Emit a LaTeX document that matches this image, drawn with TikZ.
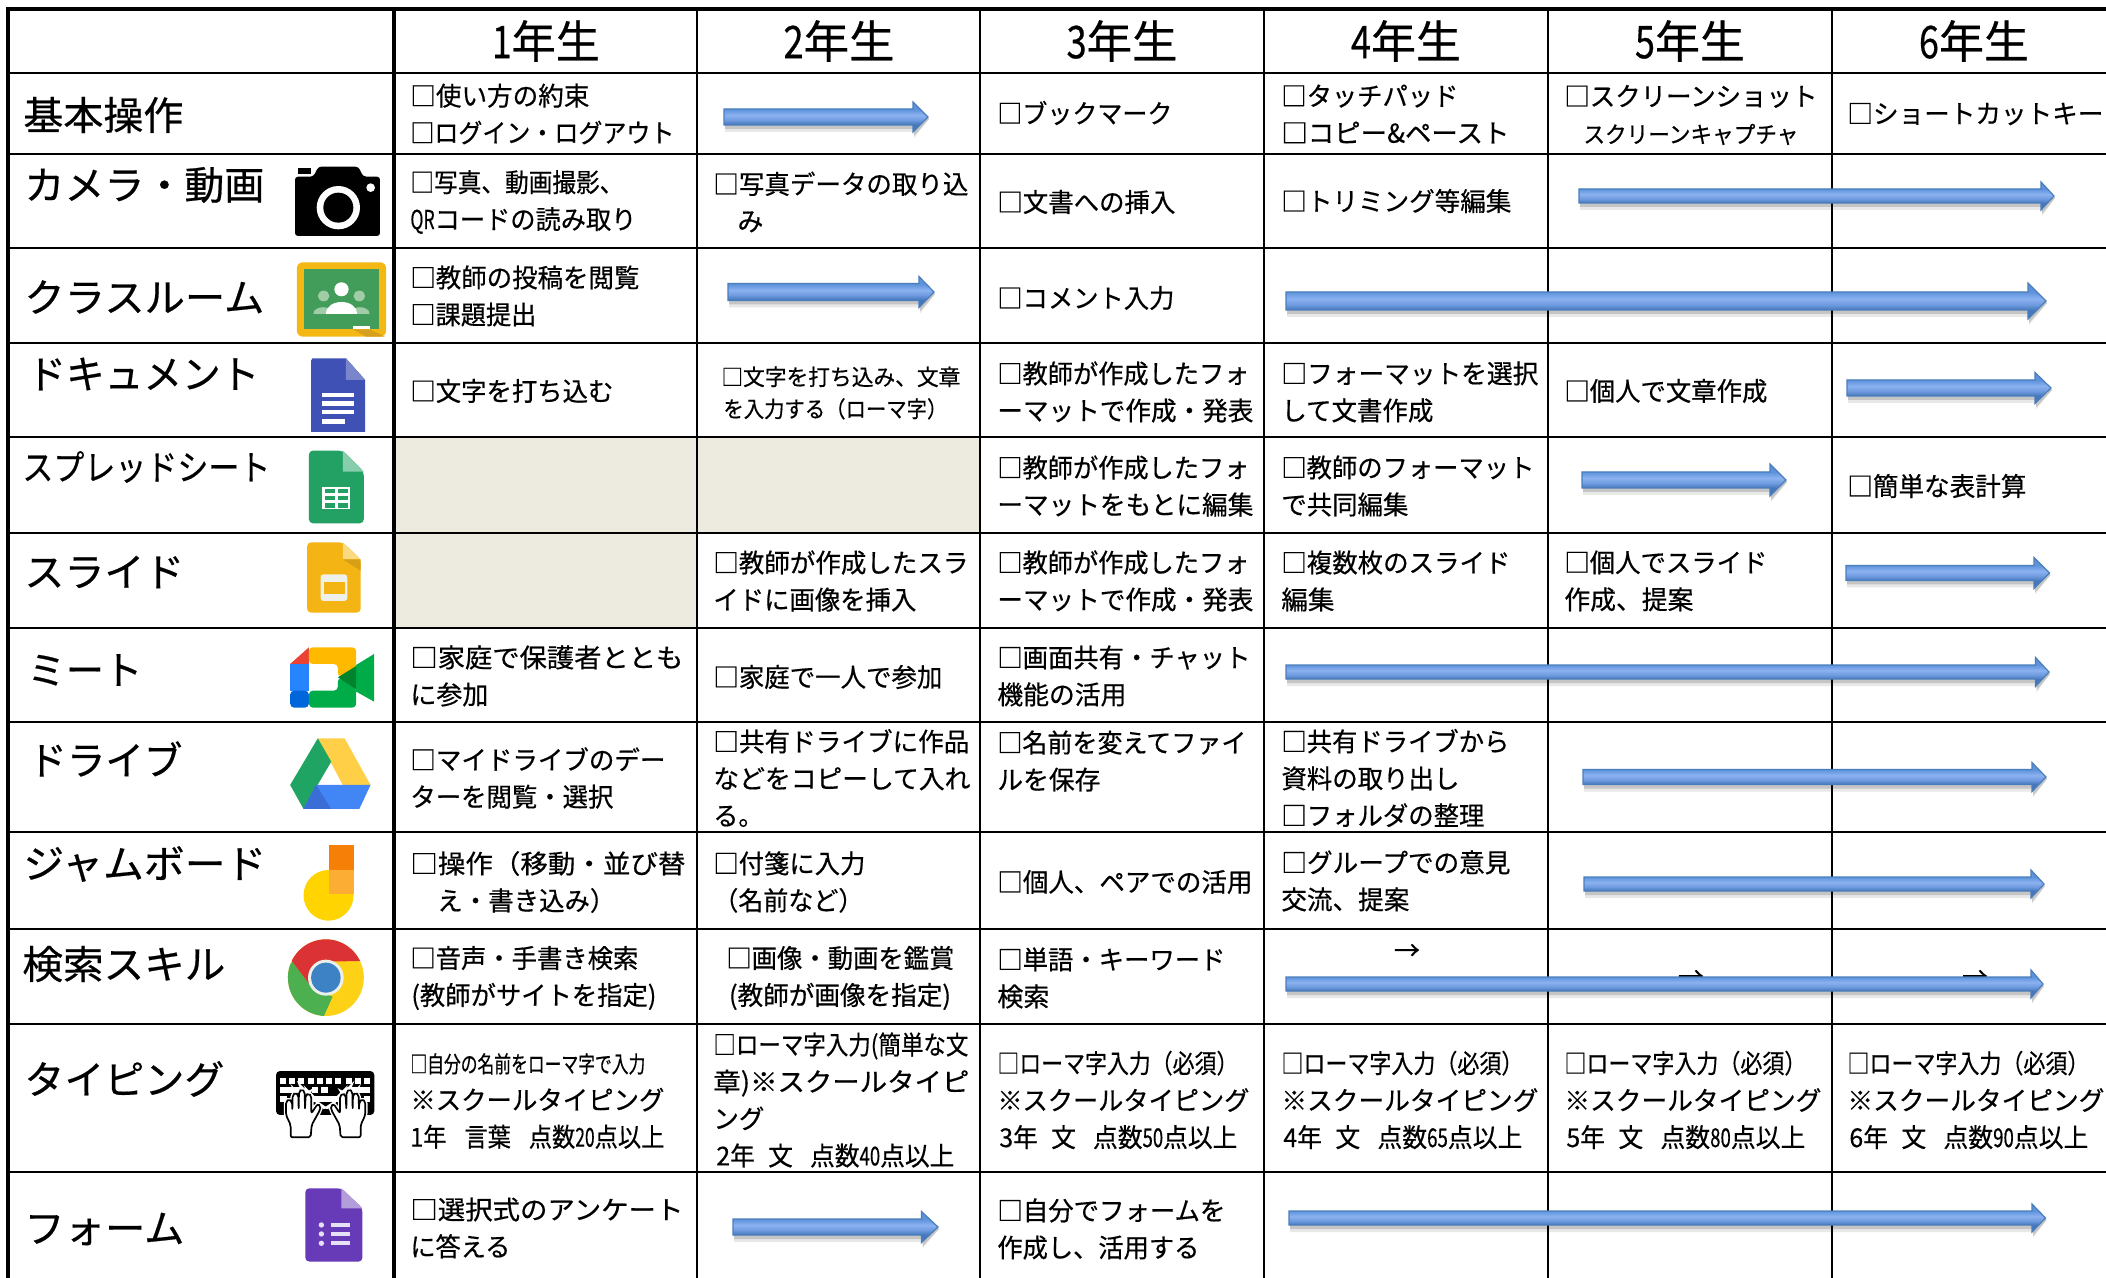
\documentclass[tikz,border=0pt]{standalone}
\usepackage{fontspec}
\usepackage{graphicx}
\setmainfont[RawFeature={embolden=0.5}]{Noto Sans CJK JP}
\newcommand\sx[2]{\scalebox{#1}[1]{#2}}
\newsavebox\fitbox
% set #2 and squeeze or stretch it sideways to a width of #1 picture pixels
\newcommand\fw[2]{\sbox\fitbox{#2}\pgfmathsetmacro\fitratio{#1*0.5/\the\wd\fitbox}\scalebox{\fitratio}[1]{\usebox\fitbox}}
\tikzset{
  gridh/.style={line width=1.15pt,black},
  gridv/.style={line width=1pt,black},
  gridthick/.style={line width=1.8pt,black},
  cell/.style={anchor=west,inner sep=0pt,align=left,yshift=-0.5pt,font=\fontsize{13}{18.5}\selectfont},
  smallcell/.style={cell,font=\fontsize{11.2}{16}\selectfont},
  rowlabel/.style={anchor=west,inner sep=0pt,yshift=-1pt,font=\fontsize{19.6}{22}\selectfont},
  header/.style={anchor=center,inner sep=0pt,yshift=-0.5pt,font=\fontsize{22.5}{26}\selectfont},
  stray/.style={anchor=center,inner sep=0pt,yshift=-0.5pt,font=\fontsize{13}{14}\selectfont},
  zoomA/.style={xscale=0.4464,yscale=0.3333},
}
\definecolor{tan}{HTML}{EDEBE0}
\definecolor{arrowedge}{HTML}{4A7EBB}
\definecolor{arrowdark}{HTML}{4677BC}
\definecolor{arrowlow}{HTML}{6F9BE0}
\definecolor{arrowlight}{HTML}{8BB2F0}
\definecolor{arrowtop}{HTML}{5E93DC}
\pgfdeclareverticalshading{blockshade}{100bp}{color(0bp)=(arrowdark);color(37.5bp)=(arrowdark);color(45bp)=(arrowlow);color(53bp)=(arrowlight);color(62.5bp)=(arrowtop);color(100bp)=(arrowtop)}
% block arrow: x1, x2, head start, centre y, half body, half head
\newcommand\blockarrow[6]{%
  \fill[black,opacity=.09] (#1+1,#4-#5+2) -- (#3+1,#4-#5+2) -- (#3+1,#4-#6+2) -- (#2+1,#4+2) -- (#3+1,#4+#6+6) -- (#3+1,#4+#5+7) -- (#1+1,#4+#5+7) -- cycle;
  \fill[black,opacity=.15] (#1+1,#4-#5+2) -- (#3+1,#4-#5+2) -- (#3+1,#4-#6+2) -- (#2+1,#4+2) -- (#3+1,#4+#6+4) -- (#3+1,#4+#5+4) -- (#1+1,#4+#5+4) -- cycle;
  \shade[shading=blockshade,draw=arrowedge,line width=.6pt]
    (#1,#4-#5) -- (#3,#4-#5) -- (#3,#4-#6) -- (#2,#4) -- (#3,#4+#6) -- (#3,#4+#5) -- (#1,#4+#5) -- cycle;
}
\begin{document}
\begin{tikzpicture}[x=0.5pt,y=-0.5pt]
\useasboundingbox (0,0) rectangle (2106,1278);
\fill[white] (0,0) rectangle (2106,1278);
% shaded cells
\fill[tan] (394,437) rectangle (697,533);
\fill[tan] (697,437) rectangle (980,533);
\fill[tan] (394,533) rectangle (697,628);
% horizontal rules
\foreach \y in {73,154,248,343,437,533,628,722,832,929,1024,1172}
  \draw[gridh] (8,\y) -- (2106,\y);
\draw[gridthick] (6,9) -- (2106,9);
% vertical rules
\foreach \x in {697,980,1264,1548,1832}
  \draw[gridv] (\x,9) -- (\x,1278);
\draw[gridthick] (8,9) -- (8,1278);
\draw[gridthick] (394,9) -- (394,1278);
% headers
\node[header] (h1) at (546,40) {\fw{108}{\sx{0.8}{1}年生}};
\node[header] (h2) at (839,40) {\fw{111}{\sx{0.8}{2}年生}};
\node[header] (h3) at (1122,40) {\fw{111}{\sx{0.8}{3}年生}};
\node[header] (h4) at (1406,40) {\fw{110}{\sx{0.8}{4}年生}};
\node[header] (h5) at (1690,40) {\fw{110}{\sx{0.8}{5}年生}};
\node[header] (h6) at (1974,40) {\fw{110}{\sx{0.8}{6}年生}};
% row labels
\node[rowlabel] (l1) at (23,113) {\fw{160}{基本操作}};
\node[rowlabel] (l2) at (24,183) {\fw{240}{カメラ・動画}};
\node[rowlabel] (l3) at (24,295) {\fw{240}{クラスルーム}};
\node[rowlabel] (l4) at (27,372) {\fw{232}{ドキュメント}};
\node[rowlabel,font=\fontsize{17.5}{20}\selectfont] (l5) at (22,465) {\fw{248}{スプレッドシート}};
\node[rowlabel] (l6) at (24,570) {\fw{160}{スライド}};
\node[rowlabel] (l7) at (27,668) {\fw{115}{ミート}};
\node[rowlabel] (l8) at (28,757) {\fw{154}{ドライブ}};
\node[rowlabel] (l9) at (23,862) {\fw{243}{ジャムボード}};
\node[rowlabel] (l10) at (22,962) {\fw{203}{検索スキル}};
\node[rowlabel] (l11) at (24,1077) {\fw{200}{タイピング}};
\node[rowlabel] (l12) at (24,1227) {\fw{160}{フォーム}};
% row 1
\node[cell] (r1c1) at (410,113) {\fw{179}{□使い方の約束}\\\fw{264}{□ログイン・ログアウト}};
\node[cell] (r1c3) at (997,112) {\fw{175}{□ブックマーク}};
\node[cell] (r1c4) at (1281,113) {\fw{177}{□タッチパッド}\\\fw{228}{□コピー\&ペースト}};
\node[cell] (r1c5) at (1564,114) {\fw{253}{□スクリーンショット}\\\hspace*{9.5pt}{\fontsize{11.5}{18.5}\selectfont\fw{215}{スクリーンキャプチャ}}};
\node[cell] (r1c6) at (1847,113) {\fw{256}{□ショートカットキー}};
% row 2
\node[cell] (r2c1) at (410,201) {\fw{213}{□写真、動画撮影、}\\\fw{226}{\sx{.7}{QR}コードの読み取り}};
\node[cell] (r2c2) at (713,201) {\fw{255}{□写真データの取り込}\\\hspace*{12pt}み};
\node[cell] (r2c3) at (997,201) {\fw{178}{□文書への挿入}};
\node[cell] (r2c4) at (1281,200) {\fw{230}{□トリミング等編集}};
% row 3
\node[cell] (r3c1) at (410,295) {\fw{229}{□教師の投稿を閲覧}\\\fw{126}{□課題提出}};
\node[cell] (r3c3) at (997,297) {\fw{177}{□コメント入力}};
% row 4
\node[cell] (r4c1) at (410,390) {\fw{203}{□文字を打ち込む}};
\node[smallcell] (r4c2) at (721,392) {\fw{239}{□文字を打ち込み、文章}\\\hspace*{1pt}\fw{224}{を入力する（ローマ字）}};
\node[cell] (r4c3) at (997,391) {\fw{252}{□教師が作成したフォ}\\\fw{256}{ーマットで作成・発表}};
\node[cell] (r4c4) at (1281,391) {\fw{257}{□フォーマットを選択}\\\fw{152}{して文書作成}};
\node[cell] (r4c5) at (1564,390) {\fw{203}{□個人で文章作成}};
% row 5
\node[cell] (r5c3) at (997,485) {\fw{252}{□教師が作成したフォ}\\\fw{256}{ーマットをもとに編集}};
\node[cell] (r5c4) at (1281,485) {\fw{253}{□教師のフォーマット}\\\fw{127}{で共同編集}};
\node[cell] (r5c6) at (1847,485) {\fw{179}{□簡単な表計算}};
% row 6
\node[cell] (r6c2) at (713,580) {\fw{255}{□教師が作成したスラ}\\\fw{203}{イドに画像を挿入}};
\node[cell] (r6c3) at (997,580) {\fw{252}{□教師が作成したフォ}\\\fw{256}{ーマットで作成・発表}};
\node[cell] (r6c4) at (1281,580) {\fw{229}{□複数枚のスライド}\\\fw{53}{編集}};
\node[cell] (r6c5) at (1564,580) {\fw{203}{□個人でスライド}\\\fw{129}{作成、提案}};
% row 7
\node[cell] (r7c1) at (410,675) {\fw{273}{□家庭で保護者ととも}\\\fw{78}{に参加}};
\node[cell] (r7c2) at (713,676) {\fw{229}{□家庭で一人で参加}};
\node[cell] (r7c3) at (997,675) {\fw{253}{□画面共有・チャット}\\\fw{129}{機能の活用}};
% row 8
\node[cell] (r8c1) at (410,777) {\fw{255}{□マイドライブのデー}\\\fw{203}{ターを閲覧・選択}};
\node[cell] (r8c2) at (713,777) {\fw{256}{□共有ドライブに作品}\\\fw{257}{などをコピーして入れ}\\\fw{50}{る。}};
\node[cell] (r8c3) at (997,760) {\fw{249}{□名前を変えてファイ}\\\fw{103}{ルを保存}};
\node[cell] (r8c4) at (1281,777) {\fw{228}{□共有ドライブから}\\\fw{178}{資料の取り出し}\\\fw{203}{□フォルダの整理}};
% row 9
\node[cell] (r9c1) at (410,881) {\fw{275}{□操作（移動・並び替}\\\hspace*{13.5pt}\fw{178}{え・書き込み）}};
\node[cell] (r9c2) at (713,881) {\fw{152}{□付箋に入力}\\\hspace*{0pt}\fw{150}{（名前など）}};
\node[cell] (r9c3) at (997,881) {\fw{255}{□個人、ペアでの活用}};
\node[cell] (r9c4) at (1281,880) {\fw{229}{□グループでの意見}\\\fw{128}{交流、提案}};
% row 10
\node[cell] (r10c1) at (410,977) {\fw{228}{□音声・手書き検索}\\\hspace*{.5pt}\fw{245}{(教師がサイトを指定)}};
\node[cell] (r10c2) at (726,977) {\fw{228}{□画像・動画を鑑賞}\\\hspace*{1.3pt}\fw{222}{(教師が画像を指定)}};
\node[cell] (r10c3) at (997,977) {\fw{228}{□単語・キーワード}\\\fw{52}{検索}};
% row 11
\node[cell] (r11c1) at (410,1100) {{\fontsize{11.5}{18.5}\selectfont\fw{235}{□自分の名前をローマ字で入力}}\\\fw{254}{※スクールタイピング}\\\fw{254}{1年\hspace{10pt}言葉\hspace{10pt}点数\sx{.75}{20}点以上}};
\node[cell] (r11c2) at (713,1099) {\fw{255}{□ローマ字入力(簡単な文}\\\fw{256}{章)※スクールタイピ}\\\fw{51}{ング}\\\hspace*{1.5pt}\fw{238}{2年\hspace{7pt}文\hspace{9pt}点数\sx{.75}{40}点以上}};
\node[cell] (r11c3) at (997,1099) {\fw{241}{□ローマ字入力（必須）}\\\fw{252}{※スクールタイピング}\\\hspace*{1pt}\fw{238}{3年\hspace{7pt}文\hspace{9pt}点数\sx{.75}{50}点以上}};
\node[cell] (r11c4) at (1281,1099) {\fw{242}{□ローマ字入力（必須）}\\\fw{257}{※スクールタイピング}\\\hspace*{1pt}\fw{239}{4年\hspace{7pt}文\hspace{9pt}点数\sx{.75}{65}点以上}};
\node[cell] (r11c5) at (1564,1099) {\fw{242}{□ローマ字入力（必須）}\\\fw{257}{※スクールタイピング}\\\hspace*{1pt}\fw{239}{5年\hspace{7pt}文\hspace{9pt}点数\sx{.75}{80}点以上}};
\node[cell] (r11c6) at (1847,1099) {\fw{242}{□ローマ字入力（必須）}\\\fw{257}{※スクールタイピング}\\\hspace*{1pt}\fw{239}{6年\hspace{7pt}文\hspace{9pt}点数\sx{.75}{90}点以上}};
% row 12
\node[cell] (r12c1) at (410,1227) {\fw{273}{□選択式のアンケート}\\\fw{100}{に答える}};
\node[cell] (r12c3) at (997,1228) {\fw{228}{□自分でフォームを}\\\fw{202}{作成し、活用する}};
% stray arrows partly under the block arrow
\node[stray] (s1) at (1407,951) {→};
\node[stray] (s2) at (1691,977) {→};
\node[stray] (s3) at (1975,977) {→};
% block arrows
\blockarrow{724}{928}{913}{117}{8}{15}
\blockarrow{1579}{2054}{2041}{196}{7}{14}
\blockarrow{728}{934}{919}{292}{8.5}{15.5}
\blockarrow{1286}{2046}{2028}{301}{9}{18}
\blockarrow{1847}{2051}{2035}{388}{8}{15.5}
\blockarrow{1582}{1786}{1770}{480}{8}{16}
\blockarrow{1846}{2049.5}{2034}{573}{7.5}{15.5}
\blockarrow{1286}{2049}{2035.5}{672}{7}{14.5}
\blockarrow{1583}{2046}{2032}{777}{7.5}{14.5}
\blockarrow{1584}{2044}{2031}{884}{7}{14}
\blockarrow{1286}{2043}{2031}{984}{7}{14}
\blockarrow{733}{938}{921.5}{1227}{8}{15.5}
\blockarrow{1289}{2045.5}{2032}{1218}{7}{14}
% ---- camera
\begin{scope}[shift={(285,160)},scale=0.3333]
\fill[black,rounded corners=1.5pt] (30,50) -- (85,50) -- (100,20) -- (220,20) -- (235,50) -- (285,50) -- (285,228) -- (30,228) -- cycle;
\fill[black] (38,25) rectangle (78,42);
\fill[white] (160,143) circle (65);
\fill[black] (160,143) circle (45);
\fill[white] (257,83) circle (13);
\end{scope}
% ---- keyboard
\begin{scope}[shift={(270,1060)},scale=0.3333]
\fill[black,rounded corners=2pt] (18,33) rectangle (313,165);
\foreach \xx in {30,58,85,113,140,167,195,228,255,283}
  \fill[white] (\xx,55) rectangle (\xx+18,73);
\fill[white] (30,82) rectangle (100,100);
\fill[white] (125,82) rectangle (145,100);
\fill[white] (153,82) rectangle (173,100);
\fill[white] (230,82) rectangle (301,100);
\fill[white] (30,108) rectangle (50,125);
\fill[white] (125,108) rectangle (205,125);
\fill[white] (283,108) rectangle (301,125);
\foreach \mirror/\off in {1/0,-1/334}{
\begin{scope}[shift={(\off,0)},xscale=\mirror]
\draw[white,line width=2.2pt,rounded corners=1pt,fill=white] (62,232) -- (62,195) -- (48,165) -- (48,125) -- (57,117) -- (66,125) -- (67,150) -- (68,105) -- (77,97) -- (85,105) -- (86,148) -- (87,95) -- (96,87) -- (104,95) -- (105,148) -- (107,105) -- (116,100) -- (124,108) -- (124,160) -- (143,132) -- (152,138) -- (150,150) -- (125,195) -- (122,232) -- cycle;
\draw[black,line width=.85pt,rounded corners=1pt,fill=white,line join=round] (62,232) -- (62,195) -- (48,165) -- (48,125) -- (57,117) -- (66,125) -- (67,150) -- (68,105) -- (77,97) -- (85,105) -- (86,148) -- (87,95) -- (96,87) -- (104,95) -- (105,148) -- (107,105) -- (116,100) -- (124,108) -- (124,160) -- (143,132) -- (152,138) -- (150,150) -- (125,195) -- (122,232) -- cycle;
\end{scope}}
\end{scope}
% ---- icons, coordinates in zoomed-crop units
\begin{scope}[zoomA]
% classroom
\fill[rounded corners=3pt,fill={rgb,255:red,244;green,184;blue,20}] (665,787) rectangle (865,1010);
\fill[fill={rgb,255:red,66;green,156;blue,90}] (680,808) rectangle (848,988);
\fill[fill={rgb,255:red,214;green,160;blue,30}] (790,988) -- (828,988) -- (862,1010) -- (820,1010) -- cycle;
\fill[fill={rgb,255:red,160;green,205;blue,165}] (725,888) ellipse (13 and 16);
\fill[fill={rgb,255:red,160;green,205;blue,165}] (805,888) ellipse (13 and 16);
\fill[fill={rgb,255:red,160;green,205;blue,165}] (702,942) .. controls (702,915) and (745,915) .. (748,942) -- cycle;
\fill[fill={rgb,255:red,160;green,205;blue,165}] (828,942) .. controls (828,915) and (785,915) .. (782,942) -- cycle;
\fill[white] (765,868) ellipse (16 and 21);
\fill[white] (730,942) .. controls (730,895) and (800,895) .. (800,942) -- cycle;
\fill[white] (790,978) rectangle (828,988);
% docs
\fill[fill={rgb,255:red,63;green,81;blue,181}] (697,1082) -- (700,1075) -- (775,1075) -- (818,1140) -- (818,1296) -- (697,1296) -- cycle;
\fill[fill={rgb,255:red,121;green,134;blue,203}] (775,1075) -- (818,1140) -- (775,1140) -- cycle;
\foreach \yy in {1178,1204,1230}
  \fill[white] (722,\yy) rectangle (792,\yy+13);
\fill[white] (722,1258) rectangle (772,1271);
\end{scope}
\begin{scope}[shift={(0,430)},zoomA]
% sheets
\fill[rounded corners=2pt,fill={rgb,255:red,35;green,160;blue,100}] (692,62) -- (768,62) -- (815,125) -- (815,280) -- (692,280) -- cycle;
\fill[fill={rgb,255:red,135;green,206;blue,172}] (768,62) -- (815,125) -- (768,125) -- cycle;
\fill[white] (722,170) rectangle (785,238);
\foreach \xx in {728,757}
  \foreach \yy in {177,198,220}
    \fill[fill={rgb,255:red,35;green,160;blue,100}] (\xx,\yy) rectangle (\xx+22,\yy+13);
% slides
\fill[rounded corners=2pt,fill={rgb,255:red,244;green,180;blue,20}] (688,337) -- (768,337) -- (808,388) -- (808,548) -- (688,548) -- cycle;
\fill[fill={rgb,255:red,250;green,218;blue,128}] (768,337) -- (808,388) -- (768,388) -- cycle;
\fill[fill={rgb,255:red,214;green,160;blue,20}] (768,388) -- (808,388) -- (808,422) -- cycle;
\fill[rounded corners=1.5pt,fill={rgb,255:red,240;green,240;blue,235}] (718,433) rectangle (778,513);
\fill[fill={rgb,255:red,244;green,180;blue,20}] (725,455) rectangle (772,492);
% meet
\fill[fill={rgb,255:red,234;green,67;blue,53}] (650,702) -- (692,652) -- (692,702) -- cycle;
\fill[rounded corners=2pt,fill={rgb,255:red,255;green,186;blue,0}] (692,652) -- (798,652) -- (798,715) -- (757,742) -- (757,702) -- (692,702) -- cycle;
\fill[fill={rgb,255:red,38;green,132;blue,252}] (650,702) rectangle (692,782);
\fill[rounded corners=2pt,fill={rgb,255:red,0;green,102;blue,218}] (650,782) -- (692,782) -- (692,833) -- (650,833) -- cycle;
\fill[rounded corners=2pt,fill={rgb,255:red,0;green,172;blue,71}] (692,782) -- (757,782) -- (757,742) -- (798,772) -- (798,833) -- (692,833) -- cycle;
\fill[fill={rgb,255:red,0;green,172;blue,71}] (798,705) -- (838,672) -- (838,815) -- (798,785) -- cycle;
\fill[fill={rgb,255:red,0;green,131;blue,45}] (757,742) -- (798,708) -- (798,778) -- cycle;
% drive
\fill[fill={rgb,255:red,255;green,207;blue,72}] (712,925) -- (772,925) -- (830,1065) -- (768,1065) -- cycle;
\fill[fill={rgb,255:red,31;green,164;blue,99}] (712,925) -- (742,995) -- (680,1137) -- (650,1065) -- cycle;
\fill[fill={rgb,255:red,66;green,133;blue,244}] (708,1065) -- (830,1065) -- (805,1137) -- (680,1137) -- cycle;
\fill[fill={rgb,255:red,58;green,110;blue,214}] (708,1065) -- (680,1137) -- (742,1137) -- cycle;
\end{scope}
\begin{scope}[shift={(0,850)},zoomA]
% jamboard
\fill[fill={rgb,255:red,255;green,212;blue,0}] (736,136) ellipse (56 and 76);
\fill[fill={rgb,255:red,246;green,127;blue,8}] (737,-15) rectangle (792,60);
\fill[fill={rgb,255:red,251;green,174;blue,51}] (737,60) rectangle (792,132);
% chrome
\begin{scope}
\clip (730,383) ellipse (85 and 115);
\fill[fill={rgb,255:red,252;green,209;blue,22}] (630,250) rectangle (830,510);
\fill[fill={rgb,255:red,76;green,175;blue,80}] (655,335) -- (700,415) -- (745,440) -- (725,500) -- (630,510) -- (620,400) -- cycle;
\fill[fill={rgb,255:red,219;green,50;blue,54}] (655,335) -- (700,415) -- (730,335) -- (805,333) -- (830,330) -- (830,250) -- (630,250) -- (630,300) -- cycle;
\end{scope}
\fill[fill={rgb,255:red,235;green,240;blue,235}] (730,383) ellipse (40 and 54);
\fill[fill={rgb,255:red,60;green,130;blue,196}] (730,383) ellipse (33 and 45);
% forms
\fill[rounded corners=2pt,fill={rgb,255:red,103;green,58;blue,183}] (684,1015) -- (765,1015) -- (812,1075) -- (812,1235) -- (684,1235) -- cycle;
\fill[fill={rgb,255:red,179;green,157;blue,219}] (765,1015) -- (812,1075) -- (765,1075) -- cycle;
\foreach \yy in {1125,1152,1180}{
  \fill[fill={rgb,255:red,230;green,225;blue,245}] (720,\yy) ellipse (6 and 8);
  \fill[fill={rgb,255:red,230;green,225;blue,245}] (742,\yy-6) rectangle (783,\yy+5);
}
\end{scope}
\end{tikzpicture}
\end{document}
